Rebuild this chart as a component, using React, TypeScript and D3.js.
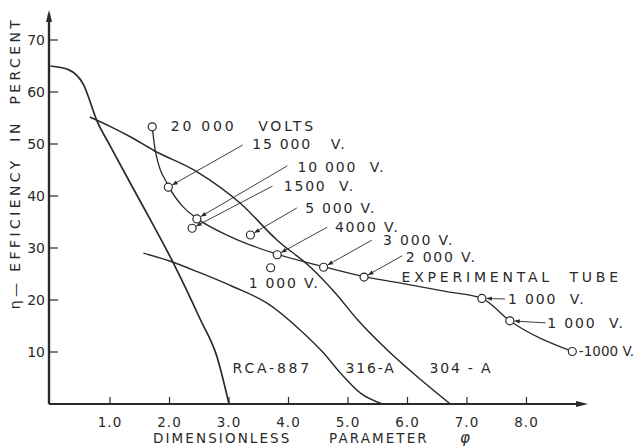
import React from 'react';
import * as d3 from 'd3';

// curves (phi, efficiency %)
const rcaX = [0, 0.3, 0.55, 0.79, 1.0, 1.34, 1.68, 2.07, 2.52, 2.8, 3.0];
const rcaY = [65, 64.3, 61.5, 54.2, 49.7, 42.5, 35.4, 27, 16.2, 9, 0];

const a304X = [0.66, 1.0, 1.34, 1.73, 2.47, 3.19, 3.81, 4.37, 4.79, 5.16, 5.66, 6.17, 6.72];
const a304Y = [55.2, 53.4, 51.4, 48.8, 44.6, 38.6, 31.5, 26.3, 21.3, 16.2, 10.4, 5.2, 0];

const a316X = [1.56, 2.0, 2.52, 3.08, 3.64, 4.2, 4.59, 4.87, 5.21, 5.58];
const a316Y = [29, 27.5, 25.2, 22.5, 19.4, 14.2, 9.8, 6, 2.1, 0];

const tubeX = [1.71, 1.76, 1.99, 2.23, 2.46, 3.02, 3.81, 4.59, 5.27, 6.0, 6.66, 7.25, 7.72, 8.77];
const tubeY = [53.3, 48.8, 41.8, 37.9, 35.7, 32.2, 28.8, 26.4, 24.5, 23.0, 21.6, 20.3, 16, 10.1];

// measured points (circles)
const ptX = [1.71, 1.98, 2.46, 2.38, 3.36, 3.81, 4.59, 5.27, 3.7, 7.25, 7.72, 8.77];
const ptY = [53.3, 41.7, 35.6, 33.8, 32.5, 28.7, 26.3, 24.4, 26.2, 20.3, 16, 10.1];

// labels: text, start phi, baseline efficiency
const labText = ['20 000   VOLTS', '15 000   V.', '10 000  V.', '1500  V.', '5 000 V.', '4000 V.',
  '3 000 V.', '2 000 V.', 'EXPERIMENTAL  TUBE', '1 000  V.', '1 000  V.', '-1000 V.', '1 000 V.',
  'RCA-887', '316-A', '304 - A'];
const labX = [2.02, 3.39, 4.15, 3.92, 4.28, 4.78, 5.59, 5.97, 5.9, 7.69, 8.35, 8.88, 3.33, 3.06, 4.96, 6.37];
const labY = [52.5, 49, 44.6, 41, 36.7, 33, 30.6, 27.3, 23.5, 19.2, 14.6, 9.2, 22.3, 6, 6, 6];

// leader lines: from label end to point index
const leadX = [3.23, 3.98, 3.73, 4.14, 4.65, 5.4, 5.91, 7.64, 8.32];
const leadY = [49.8, 45.8, 41.9, 37.7, 34, 31.5, 28.5, 20.2, 15.6];
const leadTo = [1, 2, 3, 4, 5, 6, 7, 9, 10];

const yTicks = [10, 20, 30, 40, 50, 60, 70];
const xTicks = [1, 2, 3, 4, 5, 6, 7, 8];

const W = 641;
const H = 448;
const ink = '#2a2a2a';
const font = '"DejaVu Sans", sans-serif';

// hand lettering is wider on the words than on the figures
function spacing(t: string) {
  if (t.startsWith('EXPERIMENTAL')) return 3.8;
  if (t.startsWith('-')) return 0;
  if (/VOLTS|RCA/.test(t)) return 2.8;
  return 1.8;
}

export default function App() {
  const x = d3.scaleLinear().domain([0, 9]).range([50.5, 586]);
  const y = d3.scaleLinear().domain([0, 70]).range([404, 40]);

  const line = d3.line<[number, number]>()
    .x(d => x(d[0]))
    .y(d => y(d[1]))
    .curve(d3.curveMonotoneX);

  const curves = [
    { xs: rcaX, ys: rcaY, w: 1.7 },
    { xs: a304X, ys: a304Y, w: 1.5 },
    { xs: a316X, ys: a316Y, w: 1.4 },
    { xs: tubeX, ys: tubeY, w: 1.3 },
  ];

  const x0 = x(0) - 1.5;
  const y0 = y(0);

  return (
    <div style={{ position: 'fixed', left: 0, top: 0 }}>
      <svg width={W} height={H} style={{ display: 'block', background: '#fff' }}>
        <defs>
          <marker id="arr" viewBox="0 0 10 10" refX="10" refY="5" markerWidth="7" markerHeight="6" orient="auto">
            <path d="M0,1 L10,5 L0,9 Z" fill={ink} />
          </marker>
        </defs>

        {/* axes */}
        <line x1={x0} y1={y0} x2={x0} y2={14} stroke={ink} strokeWidth={2.4} />
        <path d={`M${x0 - 3},${22} L${x0},${10} L${x0 + 3},${22} Z`} fill={ink} />
        <line x1={x0} y1={y0} x2={x(9) - 6} y2={y0} stroke={ink} strokeWidth={2.2} />
        <path d={`M${x(9) - 10},${y0 - 3} L${x(9) + 2},${y0} L${x(9) - 10},${y0 + 3} Z`} fill={ink} />

        {yTicks.map(t => (
          <g key={'y' + t}>
            <line x1={x0} x2={x0 + 9} y1={y(t)} y2={y(t)} stroke={ink} strokeWidth={1.2} />
            <text x={x0 - 4} y={y(t)} dy="0.36em" textAnchor="end" fontFamily={font} fontSize={14} fill={ink}>{t}</text>
          </g>
        ))}
        {xTicks.map(t => (
          <g key={'x' + t}>
            <line x1={x(t)} x2={x(t)} y1={y0} y2={y0 - 7} stroke={ink} strokeWidth={1.2} />
            <text x={x(t)} y={y0 + 23} textAnchor="middle" fontFamily={font} fontSize={13.5} fill={ink} letterSpacing={1}>{t.toFixed(1)}</text>
          </g>
        ))}

        <text x={153} y={443} fontFamily={font} fontSize={13.5} fill={ink} letterSpacing={2.1}>DIMENSIONLESS</text>
        <text x={329} y={443} fontFamily={font} fontSize={13.5} fill={ink} letterSpacing={2.1}>PARAMETER</text>
        <text x={460} y={443} fontFamily={font} fontSize={15} fontStyle="italic" fill={ink}>φ</text>

        <text transform="translate(20,163) rotate(-90)" textAnchor="middle" fontFamily={font} fontSize={14} fill={ink}
          letterSpacing={3.4} style={{ whiteSpace: 'pre' }}>
          η— EFFICIENCY  IN  PERCENT
        </text>

        {/* curves */}
        {curves.map((c, i) => (
          <path key={'c' + i} d={line(c.xs.map((v, j) => [v, c.ys[j]]) as [number, number][]) || ''}
            fill="none" stroke={ink} strokeWidth={c.w} />
        ))}

        {/* leaders */}
        {leadX.map((lx, i) => {
          const px = x(ptX[leadTo[i]]);
          const py = y(ptY[leadTo[i]]);
          const sx = x(lx);
          const sy = y(leadY[i]);
          const len = Math.hypot(px - sx, py - sy);
          const ex = px + (sx - px) * 4.5 / len;
          const ey = py + (sy - py) * 4.5 / len;
          return <line key={'l' + i} x1={sx} y1={sy} x2={ex} y2={ey} stroke={ink} strokeWidth={0.9} markerEnd="url(#arr)" />;
        })}

        {/* points */}
        {ptX.map((px, i) => (
          <circle key={'p' + i} cx={x(px)} cy={y(ptY[i])} r={4} fill="#fff" stroke={ink} strokeWidth={1.2} />
        ))}

        {/* labels */}
        {labText.map((t, i) => (
          <text key={'t' + i} x={x(labX[i])} y={y(labY[i])} fontFamily={font}
            fontSize={t.startsWith('-') ? 13.5 : 14} fill={ink}
            letterSpacing={spacing(t)} style={{ whiteSpace: 'pre' }}>{t}</text>
        ))}
      </svg>
    </div>
  );
}
